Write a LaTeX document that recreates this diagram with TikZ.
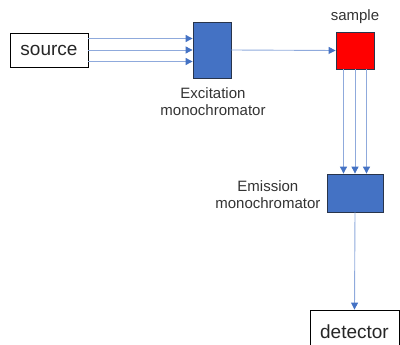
\documentclass[tikz,border=0pt]{standalone}
\usepackage{xcolor}
\usepackage{fontspec}
\setmainfont{Liberation Sans}
\usepackage{tikz}
\usetikzlibrary{positioning,arrows.meta}
\definecolor{monoblue}{RGB}{68,114,196}
\definecolor{monoedge}{RGB}{40,52,75}
\definecolor{samplered}{RGB}{255,0,0}
\definecolor{raycol}{RGB}{143,170,220}

\begin{document}
\begin{tikzpicture}[
  x=1pt, y=-1pt,
  box/.style={draw=black, line width=0.8pt, inner sep=0pt,
              font=\fontsize{19}{22}\selectfont, text=black!85},
  mono/.style={draw=monoedge, line width=0.8pt, fill=monoblue, inner sep=0pt},
  lbl/.style={font=\fontsize{15}{16.8}\selectfont, align=center, text=black!80, inner sep=0pt},
  arr/.style={-{Triangle[length=7pt,width=7pt,color=monoblue]}, line width=0.9pt, color=raycol}
]
\clip (0,0) rectangle (400,345);

\node[box, minimum width=78pt, minimum height=34pt]  (src) at (49,50)    {source};
\node[mono, minimum width=38pt, minimum height=56pt] (exc) at (212,50)   {};
\node[mono, fill=samplered, minimum width=38pt, minimum height=37pt] (smp) at (355,50.5) {};
\node[mono, minimum width=56pt, minimum height=38pt] (emi) at (355,193)  {};
\node[box, minimum width=89pt, minimum height=44pt]  (det) at (354.5,332) {detector};

\node[lbl, below=9pt of exc, xshift=1pt] (exclbl) {Excitation\\monochromator};
\node[lbl, above=8pt of smp] (smplbl) {sample};
\node[lbl, left=6pt of emi, yshift=-2pt] (emilbl) {Emission\\monochromator};

\foreach \d in {-11.5,0,11.5}
  \draw[arr] ([yshift=\d pt]src.east) -- ([yshift=\d pt]exc.west);
\draw[arr] (exc.east) -- (smp.west);
\foreach \d in {-11.5,0,11.5}
  \draw[arr] ([xshift=\d pt]smp.south) -- ([xshift=\d pt]emi.north);
\draw[arr] (emi.south) -- (det.north);

\end{tikzpicture}
\end{document}
